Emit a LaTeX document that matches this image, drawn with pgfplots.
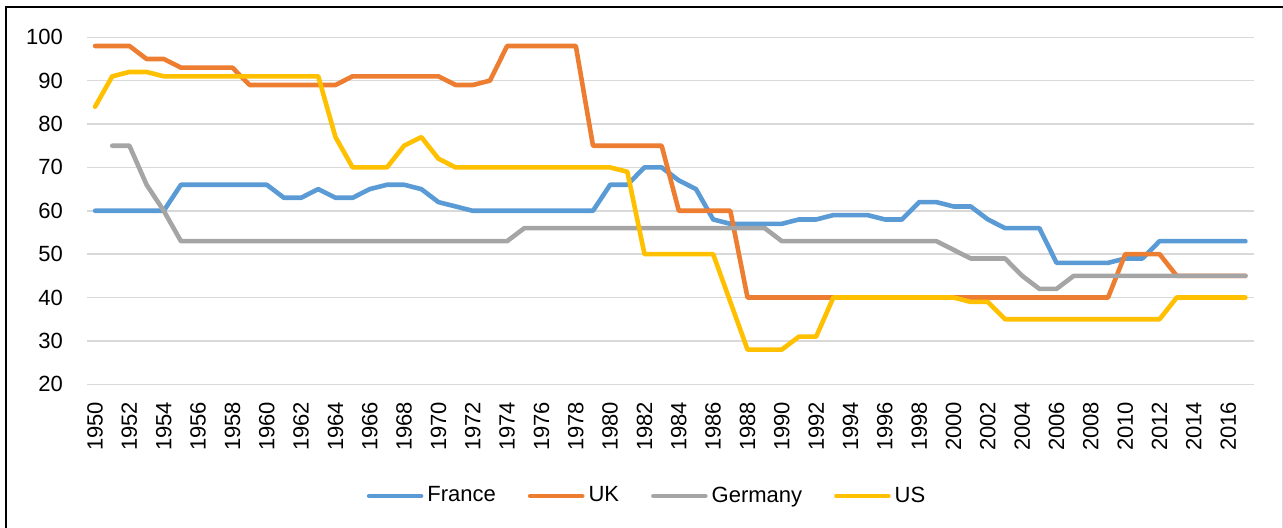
\documentclass[border=0pt]{standalone}
\usepackage{pgfplots}
\usepackage{pgfplotstable}
\pgfplotsset{compat=1.18}
\usepackage{fontspec}
\setmainfont{Liberation Sans}
\definecolor{cFrance}{HTML}{5B9BD5}
\definecolor{cUK}{HTML}{ED7D31}
\definecolor{cGermany}{HTML}{A5A5A5}
\definecolor{cUS}{HTML}{FFC000}
\definecolor{cGrid}{HTML}{D9D9D9}

\pgfplotstableread{
year France UK Germany US
1950 60 98 nan 84
1951 60 98 75 91
1952 60 98 75 92
1953 60 95 66 92
1954 60 95 60 91
1955 66 93 53 91
1956 66 93 53 91
1957 66 93 53 91
1958 66 93 53 91
1959 66 89 53 91
1960 66 89 53 91
1961 63 89 53 91
1962 63 89 53 91
1963 65 89 53 91
1964 63 89 53 77
1965 63 91 53 70
1966 65 91 53 70
1967 66 91 53 70
1968 66 91 53 75
1969 65 91 53 77
1970 62 91 53 72
1971 61 89 53 70
1972 60 89 53 70
1973 60 90 53 70
1974 60 98 53 70
1975 60 98 56 70
1976 60 98 56 70
1977 60 98 56 70
1978 60 98 56 70
1979 60 75 56 70
1980 66 75 56 70
1981 66 75 56 69
1982 70 75 56 50
1983 70 75 56 50
1984 67 60 56 50
1985 65 60 56 50
1986 58 60 56 50
1987 57 60 56 39
1988 57 40 56 28
1989 57 40 56 28
1990 57 40 53 28
1991 58 40 53 31
1992 58 40 53 31
1993 59 40 53 40
1994 59 40 53 40
1995 59 40 53 40
1996 58 40 53 40
1997 58 40 53 40
1998 62 40 53 40
1999 62 40 53 40
2000 61 40 51 40
2001 61 40 49 39
2002 58 40 49 39
2003 56 40 49 35
2004 56 40 45 35
2005 56 40 42 35
2006 48 40 42 35
2007 48 40 45 35
2008 48 40 45 35
2009 48 40 45 35
2010 49 50 45 35
2011 49 50 45 35
2012 53 50 45 35
2013 53 45 45 40
2014 53 45 45 40
2015 53 45 45 40
2016 53 45 45 40
2017 53 45 45 40
}\datatable

\begin{document}
\fontsize{11}{13}\selectfont
\begin{tikzpicture}
\useasboundingbox (0,0) rectangle (641.5pt,264pt);
\begin{axis}[
  at={(43.25pt,71.85pt)}, anchor=south west,
  scale only axis,
  width=583.75pt, height=173.5pt,
  xmin=1949.5, xmax=2017.5,
  ymin=20, ymax=100,
  xtick={1950,1952,...,2016},
  ytick={20,30,...,100},
  /pgf/number format/1000 sep={},
  /pgf/number format/assume math mode=true,
  axis line style={draw=none},
  major tick length=0pt,
  ymajorgrids,
  grid style={cGrid, line width=0.75pt},
  tick label style={font=\fontsize{11}{13}\selectfont},
  xticklabel style={rotate=90, anchor=east, xshift=-5pt},
  yticklabel style={xshift=-8pt},
  unbounded coords=jump,
  legend columns=4,
  legend style={at={(0.481,-0.322)}, anchor=center, draw=none,
    font=\fontsize{11}{13}\selectfont,
    /tikz/every even column/.append style={column sep=14pt},
    inner sep=0pt},
  legend image code/.code={\draw[#1] (0pt,0pt) -- (26pt,0pt);},
  every axis plot/.append style={line width=2.3pt, line join=round, line cap=round},
]
\addplot[cFrance] table[x=year, y=France] {\datatable};
\addlegendentry{France}
\addplot[cUK] table[x=year, y=UK] {\datatable};
\addlegendentry{UK}
\addplot[cGermany] table[x=year, y=Germany] {\datatable};
\addlegendentry{Germany}
\addplot[cUS] table[x=year, y=US] {\datatable};
\addlegendentry{US}
\end{axis}
\draw[line width=1.1pt, black] (3pt,0pt) -- (3pt,260.5pt) -- (641.5pt,260.5pt);
\draw[line width=0.4pt, cGrid] (641.2pt,0pt) -- (641.2pt,260pt);
\end{tikzpicture}
\end{document}
